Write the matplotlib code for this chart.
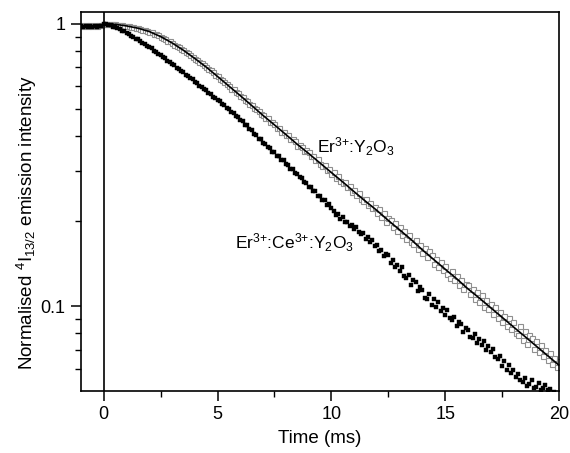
import numpy as np
import matplotlib
matplotlib.use("Agg")
import matplotlib.pyplot as plt
from matplotlib.ticker import FixedLocator, NullFormatter

plt.rcParams['font.family'] = ['Liberation Sans', 'DejaVu Sans']
plt.rcParams['mathtext.fontset'] = 'custom'
plt.rcParams['mathtext.rm'] = 'Liberation Sans'
plt.rcParams['mathtext.it'] = 'Liberation Sans:italic'

# time grid of the measurements (ms), -1.0 .. 20.0 every 0.1
time = np.round(np.arange(-1.0, 20.05, 0.1), 1)

# Er3+:Ce3+:Y2O3, one row per ms (t = k.0 .. k.9)
er_ce = [
    0.978, 0.974, 0.981, 0.976, 0.979, 0.973, 0.980, 0.977, 0.982, 0.985,  # -1
    0.998, 0.996, 0.989, 0.986, 0.977, 0.972, 0.962, 0.956, 0.944, 0.940,  # 0
    0.928, 0.921, 0.907, 0.900, 0.886, 0.880, 0.870, 0.855, 0.849, 0.834,  # 1
    0.827, 0.817, 0.802, 0.796, 0.781, 0.775, 0.760, 0.754, 0.739, 0.733,  # 2
    0.719, 0.713, 0.698, 0.693, 0.678, 0.673, 0.659, 0.655, 0.640, 0.635,  # 3
    0.622, 0.617, 0.603, 0.599, 0.585, 0.581, 0.568, 0.564, 0.551, 0.547,  # 4
    0.535, 0.531, 0.518, 0.515, 0.502, 0.499, 0.487, 0.484, 0.470, 0.467,  # 5
    0.455, 0.451, 0.438, 0.436, 0.422, 0.419, 0.407, 0.404, 0.392, 0.389,  # 6
    0.378, 0.376, 0.365, 0.364, 0.352, 0.351, 0.341, 0.339, 0.329, 0.328,  # 7
    0.318, 0.317, 0.306, 0.306, 0.295, 0.294, 0.286, 0.285, 0.274, 0.273,  # 8
    0.265, 0.264, 0.255, 0.255, 0.246, 0.246, 0.238, 0.238, 0.228, 0.229,  # 9
    0.222, 0.217, 0.210, 0.212, 0.204, 0.207, 0.198, 0.199, 0.192, 0.194,  # 10
    0.188, 0.190, 0.183, 0.180, 0.182, 0.173, 0.175, 0.168, 0.171, 0.163,  # 11
    0.164, 0.157, 0.158, 0.150, 0.153, 0.152, 0.142, 0.146, 0.137, 0.140,  # 12
    0.133, 0.137, 0.128, 0.126, 0.129, 0.119, 0.124, 0.122, 0.113, 0.117,  # 13
    0.114, 0.107, 0.106, 0.110, 0.101, 0.106, 0.0995, 0.103, 0.0960, 0.0985,  # 14
    0.0930, 0.0965, 0.0905, 0.0895, 0.0915, 0.0850, 0.0880, 0.0865, 0.0810, 0.0835,  # 15
    0.0820, 0.0775, 0.0770, 0.0795, 0.0740, 0.0765, 0.0725, 0.0750, 0.0700, 0.0722,  # 16
    0.0685, 0.0705, 0.0660, 0.0650, 0.0665, 0.0615, 0.0640, 0.0595, 0.0618, 0.0580,  # 17
    0.0595, 0.0560, 0.0575, 0.0548, 0.0540, 0.0555, 0.0522, 0.0530, 0.0545, 0.0512,  # 18
    0.0518, 0.0532, 0.0505, 0.0512, 0.0525, 0.0503, 0.0510, 0.0488, 0.0495, 0.0482,  # 19
    0.0478,  # 20
]

# Er3+:Y2O3 measured points
er_y = [
    0.986, 0.983, 0.988, 0.984, 0.987, 0.982, 0.989, 0.985, 0.990, 0.993,  # -1
    1.001, 0.997, 1.000, 0.995, 0.998, 0.996, 0.991, 0.993, 0.986, 0.984,  # 0
    0.980, 0.979, 0.973, 0.972, 0.966, 0.965, 0.960, 0.952, 0.949, 0.944,  # 1
    0.936, 0.932, 0.921, 0.916, 0.909, 0.898, 0.893, 0.881, 0.871, 0.866,  # 2
    0.857, 0.843, 0.836, 0.827, 0.813, 0.806, 0.792, 0.786, 0.772, 0.765,  # 3
    0.751, 0.745, 0.731, 0.724, 0.714, 0.700, 0.690, 0.683, 0.672, 0.658,  # 4
    0.652, 0.638, 0.631, 0.619, 0.613, 0.603, 0.589, 0.585, 0.572, 0.566,  # 5
    0.553, 0.550, 0.536, 0.533, 0.520, 0.517, 0.502, 0.500, 0.491, 0.478,  # 6
    0.476, 0.464, 0.462, 0.448, 0.447, 0.440, 0.428, 0.428, 0.415, 0.414,  # 7
    0.402, 0.404, 0.391, 0.389, 0.384, 0.369, 0.372, 0.366, 0.354, 0.356,  # 8
    0.351, 0.339, 0.340, 0.328, 0.331, 0.318, 0.313, 0.315, 0.304, 0.305,  # 9
    0.294, 0.298, 0.285, 0.289, 0.277, 0.272, 0.276, 0.264, 0.266, 0.254,  # 10
    0.258, 0.247, 0.251, 0.240, 0.236, 0.240, 0.228, 0.231, 0.222, 0.225,  # 11
    0.214, 0.221, 0.207, 0.213, 0.198, 0.205, 0.202, 0.190, 0.196, 0.185,  # 12
    0.191, 0.179, 0.184, 0.173, 0.179, 0.168, 0.166, 0.171, 0.159, 0.164,  # 13
    0.154, 0.161, 0.149, 0.156, 0.152, 0.141, 0.147, 0.137, 0.143, 0.134,  # 14
    0.139, 0.130, 0.126, 0.133, 0.124, 0.128, 0.119, 0.124, 0.115, 0.120,  # 15
    0.119, 0.110, 0.115, 0.106, 0.112, 0.103, 0.109, 0.0995, 0.105, 0.0975,  # 16
    0.102, 0.0935, 0.0990, 0.0905, 0.0955, 0.0880, 0.0925, 0.0850, 0.0905, 0.0830,  # 17
    0.0875, 0.0800, 0.0790, 0.0850, 0.0760, 0.0815, 0.0735, 0.0790, 0.0770, 0.0705,  # 18
    0.0750, 0.0685, 0.0725, 0.0665, 0.0700, 0.0645, 0.0680, 0.0625, 0.0655, 0.0610,  # 19
    0.0640,  # 20
]

# fitted curve for Er3+:Y2O3, every 0.5 ms from 0 to 20
fit_t = np.arange(0, 20.01, 0.5)
fit_y = [
    1.000, 0.995, 0.982, 0.964, 0.938, 0.900, 0.855, 0.805, 0.753, 0.702,
    0.650, 0.601, 0.556, 0.513, 0.473, 0.438, 0.405, 0.374, 0.347, 0.321,
    0.297, 0.275, 0.254, 0.235, 0.218, 0.201, 0.186, 0.172, 0.158, 0.146,
    0.135, 0.125, 0.115, 0.1067, 0.0986, 0.0912, 0.0843, 0.0780, 0.0721, 0.0667,
    0.0617,
]

fig = plt.figure(figsize=(5.70, 4.53), dpi=100)
ax = fig.add_axes([0.1421, 0.1369, 0.8386, 0.8366])

ax.plot(time, er_y, ls='none', marker='s', ms=3.6, mfc='white', mec='#8f8f8f',
        mew=0.8, zorder=2)
ax.plot(fit_t, fit_y, color='black', lw=1.2, zorder=3)
ax.plot(time, er_ce, ls='none', marker='s', ms=3.0, mfc='black', mec='black',
        mew=0.3, zorder=4)
ax.axvline(0, color='black', lw=1.2, zorder=5)

ax.set_yscale('log')
ax.set_xlim(-1, 20)
ax.set_ylim(0.05, 1.1)

ax.set_xticks([0, 5, 10, 15, 20])
ax.xaxis.set_minor_locator(FixedLocator([2.5, 7.5, 12.5, 17.5]))
ax.yaxis.set_major_locator(FixedLocator([0.1, 1]))
ax.set_yticklabels(['0.1', '1'])
ax.yaxis.set_minor_locator(FixedLocator([0.06, 0.07, 0.08, 0.09, 0.2, 0.3, 0.4,
                                         0.5, 0.6, 0.7, 0.8, 0.9]))
ax.yaxis.set_minor_formatter(NullFormatter())
ax.tick_params(which='major', direction='out', length=7, width=1.1, labelsize=13, pad=4)
ax.tick_params(which='minor', direction='out', length=4, width=1.0)
for s in ax.spines.values():
    s.set_linewidth(1.2)

ax.set_xlabel('Time (ms)', fontsize=13.5, labelpad=5)
ax.set_ylabel('Normalised $^{4}$I$_{13/2}$ emission intensity', fontsize=13.5)
ax.yaxis.set_label_coords(-0.088, 0.445)

ax.text(9.35, 0.366, 'Er$^{3{+}}$:Y$_{2}$O$_{3}$', fontsize=12.5, va='center', ha='left')
ax.text(5.77, 0.167, 'Er$^{3{+}}$:Ce$^{3{+}}$:Y$_{2}$O$_{3}$', fontsize=12.5,
        va='center', ha='left')

fig.savefig('out.png', dpi=100)
